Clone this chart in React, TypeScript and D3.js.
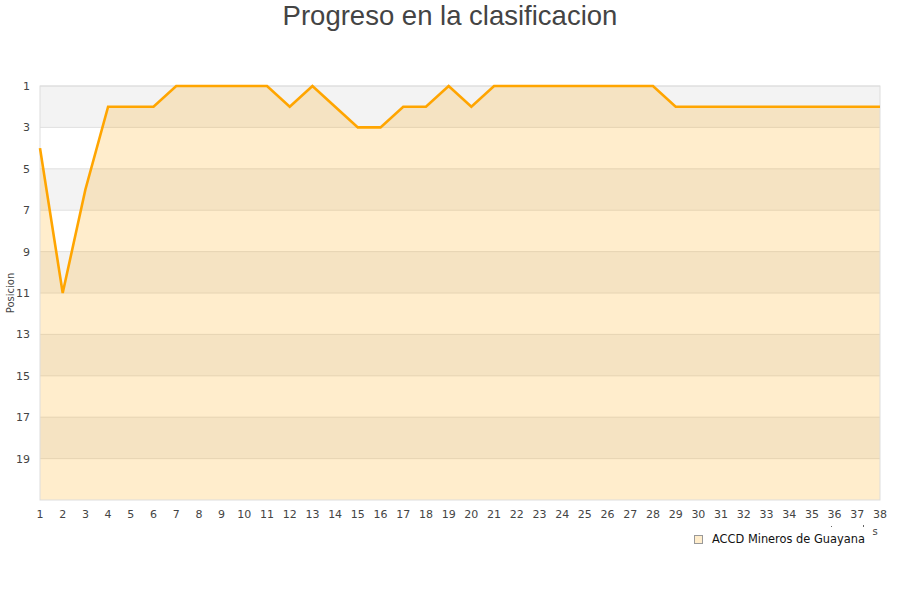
import React from "react";
import * as d3 from "d3";

const jornadas: number[] = Array.from({ length: 38 }, (_, i) => i + 1);
const posiciones: number[] = [4, 11, 6, 2, 2, 2, 1, 1, 1, 1, 1, 2, 1, 2, 3, 3, 2, 2, 1, 2, 1, 1, 1, 1, 1, 1, 1, 1, 2, 2, 2, 2, 2, 2, 2, 2, 2, 2];
const yTicks: number[] = [1, 3, 5, 7, 9, 11, 13, 15, 17, 19];
const bands: number[][] = [[1, 3], [5, 7], [9, 11], [13, 15], [17, 19]];
const teamName = "ACCD Mineros de Guayana";
const title = "Progreso en la clasificacion";

export default function App() {
  const W = 900, H = 600;
  const left = 40, right = 880, top = 86, bottom = 500;
  const x = d3.scaleLinear().domain([1, 38]).range([left, right]);
  const y = d3.scaleLinear().domain([1, 21]).range([top, bottom]);
  const data = jornadas.map((j, i) => ({ j, p: posiciones[i] }));
  const line = d3.line<{ j: number; p: number }>().x(d => x(d.j)).y(d => y(d.p));
  const area = d3.area<{ j: number; p: number }>().x(d => x(d.j)).y0(y(21)).y1(d => y(d.p));
  const font = "DejaVu Sans, sans-serif";
  return (
    <svg width={W} height={H} style={{ position: "absolute", left: 0, top: 0 }} fontFamily={font}>
      <rect x={0} y={0} width={W} height={H} fill="#fff" />
      <text x={450} y={25} textAnchor="middle" fontSize={27.5} fill="#444" fontFamily="Liberation Sans, Arial, sans-serif">{title}</text>
      {bands.map((b, i) => (
        <rect key={i} x={left} y={y(b[0])} width={right - left} height={y(b[1]) - y(b[0])} fill="#f3f3f3" />
      ))}
      {yTicks.map(t => (
        <line key={t} x1={left} x2={right} y1={y(t)} y2={y(t)} stroke="#e0e0e0" strokeWidth={1} />
      ))}
      <path d={area(data) || ""} fill="#ffa500" fillOpacity={0.2} />
      <rect x={left} y={top} width={right - left} height={bottom - top} fill="none" stroke="#dddddd" strokeWidth={1} />
      <path d={line(data) || ""} fill="none" stroke="#ffa500" strokeWidth={2.6} strokeLinejoin="miter" />
      {yTicks.map(t => (
        <text key={t} x={30} y={y(t) + 4} textAnchor="end" fontSize={11} fill="#444">{t}</text>
      ))}
      {jornadas.map(j => (
        <text key={j} x={x(j)} y={518} textAnchor="middle" fontSize={11} fill="#444">{j}</text>
      ))}
      <text transform={`translate(14,293) rotate(-90)`} textAnchor="middle" fontSize={10} fill="#444">Posicion</text>
      <text x={875} y={535} textAnchor="middle" fontSize={10} fill="#444">s</text>
      <rect x={831} y={526} width={1} height={1} fill="#666" />
      <rect x={863} y={525} width={1} height={2} fill="#666" />
      <rect x={694.5} y={535.5} width={8} height={8} fill="#ffedcc" stroke="#999" strokeWidth={1} />
      <text x={712} y={543} fontSize={11.4} fill="#111">{teamName}</text>
    </svg>
  );
}
